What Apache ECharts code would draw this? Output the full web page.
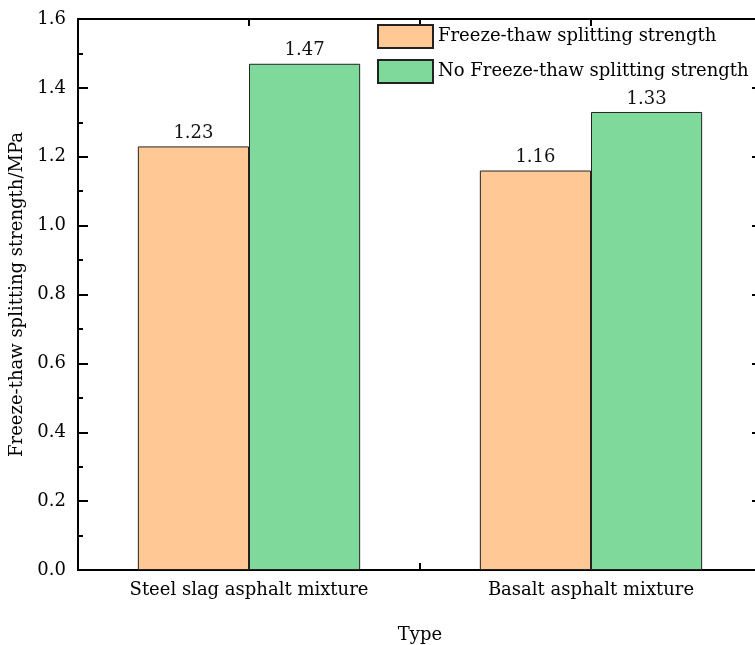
<!DOCTYPE html>
<html>
<head>
<meta charset="utf-8">
<script src="https://cdn.jsdelivr.net/npm/echarts@6/dist/echarts.min.js"></script>
<style>
  html, body { margin: 0; padding: 0; background: #fff; }
  #chart { width: 755px; height: 645px; }
</style>
</head>
<body>
<div id="chart"></div>
<script>
// Mixture types and splitting strengths (MPa)
const categories = ['Steel slag asphalt mixture', 'Basalt asphalt mixture'];
const seriesNames = ['Freeze-thaw splitting strength', 'No Freeze-thaw splitting strength'];
const freezeThaw = [1.23, 1.16];
const noFreezeThaw = [1.47, 1.33];
const yTicks = { min: 0, max: 1.6, interval: 0.2 };

const FONT = 'DejaVu Serif';
const FS = 18;
const axisLine = { show: true, onZero: false, lineStyle: { color: '#000', width: 2 } };

const chart = echarts.init(document.getElementById('chart'), null, { renderer: 'canvas' });

const barLabel = {
  show: true,
  position: 'top',
  distance: 4,
  fontFamily: FONT,
  fontSize: FS,
  color: '#111',
  formatter: p => p.value.toFixed(2)
};

chart.setOption({
  animation: false,
  backgroundColor: '#fff',
  textStyle: { fontFamily: FONT },
  // plot area runs slightly past the right edge of the canvas
  grid: { left: 78, top: 19, width: 684, height: 551, containLabel: false, outerBoundsMode: 'none' },
  legend: {
    orient: 'vertical',
    left: 372,
    top: 19,
    itemWidth: 55,
    itemHeight: 23,
    itemGap: 10,
    icon: 'rect',
    textStyle: { fontFamily: FONT, fontSize: FS, color: '#000' },
    data: seriesNames
  },
  xAxis: [
    {
      type: 'category',
      data: categories,
      position: 'bottom',
      name: 'Type',
      nameLocation: 'middle',
      nameGap: 56,
      nameTextStyle: { fontFamily: FONT, fontSize: FS, color: '#000' },
      axisLine: axisLine,
      axisTick: { show: false },
      axisLabel: { fontFamily: FONT, fontSize: FS, color: '#000', margin: 11 }
    },
    {
      // tick marks at category centres and boundaries along the bottom edge
      type: 'value',
      position: 'bottom',
      min: 0, max: 2, interval: 0.5,
      axisLine: axisLine,
      axisTick: { show: true, inside: true, length: 7, lineStyle: { color: '#000', width: 2 } },
      axisLabel: { show: false },
      splitLine: { show: false }
    },
    {
      // top frame with the same tick marks
      type: 'value',
      position: 'top',
      min: 0, max: 2, interval: 0.5,
      axisLine: axisLine,
      axisTick: { show: true, inside: true, length: 7, lineStyle: { color: '#000', width: 2 } },
      axisLabel: { show: false },
      splitLine: { show: false }
    }
  ],
  yAxis: [
    {
      type: 'value',
      position: 'left',
      min: yTicks.min, max: yTicks.max, interval: yTicks.interval,
      name: 'Freeze-thaw splitting strength/MPa',
      nameLocation: 'middle',
      nameGap: 50,
      nameTextStyle: { fontFamily: FONT, fontSize: FS, color: '#000' },
      axisLine: axisLine,
      axisTick: { show: true, inside: true, length: 10, lineStyle: { color: '#000', width: 2 } },
      minorTick: { show: true, splitNumber: 2, length: 5, lineStyle: { color: '#000', width: 2 } },
      axisLabel: { fontFamily: FONT, fontSize: FS, color: '#000', margin: 12, formatter: v => v.toFixed(1) },
      splitLine: { show: false }
    },
    {
      type: 'value',
      position: 'right',
      min: yTicks.min, max: yTicks.max, interval: yTicks.interval,
      axisLine: axisLine,
      axisTick: { show: true, inside: true, length: 10, lineStyle: { color: '#000', width: 2 } },
      axisLabel: { show: false },
      splitLine: { show: false }
    }
  ],
  series: [
    {
      name: seriesNames[0],
      type: 'bar',
      data: freezeThaw,
      barGap: '0%',
      barCategoryGap: '35%',
      itemStyle: { color: '#FFC894', borderColor: '#222', borderWidth: 1 },
      label: barLabel
    },
    {
      name: seriesNames[1],
      type: 'bar',
      data: noFreezeThaw,
      barGap: '0%',
      barCategoryGap: '35%',
      itemStyle: { color: '#7FD99B', borderColor: '#222', borderWidth: 1 },
      label: barLabel
    }
  ]
});
</script>
</body>
</html>
